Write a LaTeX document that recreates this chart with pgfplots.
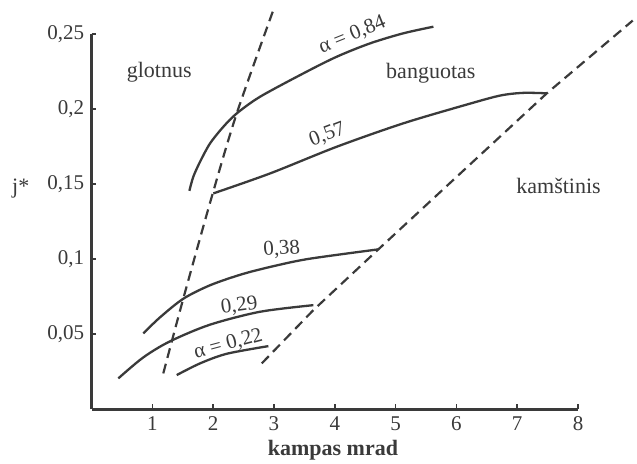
\documentclass[border=0pt]{standalone}
\usepackage{fontspec}
\setmainfont{Liberation Serif}
\usepackage{pgfplots}
\pgfplotsset{compat=1.18}
\definecolor{ink}{HTML}{3A3A3A}
\begin{document}
\fontsize{10.5}{12}\selectfont
\begin{tikzpicture}
\begin{axis}[
  scale only axis, width=243.2pt, height=187.5pt,
  xmin=0, xmax=8, ymin=0, ymax=0.25,
  axis lines=left, axis line style={-, line width=1.4pt, ink},
  clip=false,
  xtick={1,2,3,4,5,6,7,8},
  ytick={0.05,0.1,0.15,0.2,0.25},
  yticklabels={{0,05},{0,1},{0,15},{0,2},{0,25}},
  tick align=inside, major tick length=2.4pt,
  tick style={line width=0.8pt, ink},
  ticklabel style={font=\fontsize{10.5}{12}\selectfont, text=ink},
  /pgf/number format/assume math mode=true,
]
% alpha = 0.84
\addplot[ink, line width=1.15pt, smooth] coordinates {
 (1.609,0.1455) (1.674,0.1549) (1.785,0.1649) (1.949,0.1771) (2.168,0.1882) (2.388,0.1971) (2.771,0.2082) (3.484,0.2238) (4.033,0.2349) (4.581,0.2438) (5.128,0.2505) (5.622,0.2549)};
% 0.57
\addplot[ink, line width=1.15pt, smooth] coordinates {
 (2.003,0.1438) (2.936,0.1571) (4.033,0.1749) (5.128,0.1905) (6.171,0.2030) (6.719,0.2090) (7.10,0.2108) (7.487,0.2105)};
% 0.38
\addplot[ink, line width=1.15pt, smooth] coordinates {
 (0.852,0.0505) (1.127,0.0612) (1.510,0.0736) (1.957,0.0827) (2.497,0.0902) (3.046,0.0958) (3.594,0.1003) (4.717,0.1065)};
% 0.29
\addplot[ink, line width=1.15pt, smooth] coordinates {
 (0.441,0.0205) (0.852,0.0345) (1.291,0.0452) (1.949,0.0563) (2.771,0.0649) (3.648,0.0693)};
% 0.22
\addplot[ink, line width=1.15pt, smooth] coordinates {
 (1.401,0.0227) (1.785,0.0305) (2.224,0.0369) (2.908,0.0420)};
% dashed boundaries
\addplot[ink, line width=1.1pt, dash pattern=on 5pt off 3pt, smooth] coordinates {
 (1.18,0.0238) (1.51,0.0738) (1.977,0.1415) (2.388,0.1971) (2.99,0.266)};
\addplot[ink, line width=1.1pt, dash pattern=on 5pt off 3pt] coordinates {
 (2.80,0.0305) (3.648,0.066) (4.717,0.1065) (7.487,0.2105) (8.9,0.259)};
% labels
\node[text=ink, rotate=22] at (axis cs:4.29,0.2493) {α = 0,84};
\node[text=ink, rotate=21] at (axis cs:3.88,0.1827) {0,57};
\node[text=ink, rotate=4] at (axis cs:3.128,0.1065) {0,38};
\node[text=ink, rotate=8] at (axis cs:2.43,0.0688) {0,29};
\node[text=ink, rotate=15] at (axis cs:2.25,0.0432) {α = 0,22};
\node[text=ink, anchor=base, font=\fontsize{11}{13}\selectfont] at (axis cs:1.113,0.2209) {glotnus};
\node[text=ink, anchor=base, font=\fontsize{11}{13}\selectfont] at (axis cs:5.58,0.2205) {banguotas};
\node[text=ink, anchor=base, font=\fontsize{11}{13}\selectfont] at (axis cs:7.68,0.1438) {kamštinis};
\node[text=ink, anchor=base, font=\fontsize{11}{13}\selectfont] at (axis cs:-1.163,0.144) {j*};
\node[text=ink, anchor=base, font=\bfseries\fontsize{11}{13}\selectfont] at (axis cs:3.97,-0.0307) {kampas mrad};
\coordinate (bl) at (axis cs:-1.505,-0.036);
\coordinate (tr) at (axis cs:8.97,0.2727);
\end{axis}
\pgfresetboundingbox
\path[use as bounding box] (bl) rectangle (tr);
\end{tikzpicture}
\end{document}
